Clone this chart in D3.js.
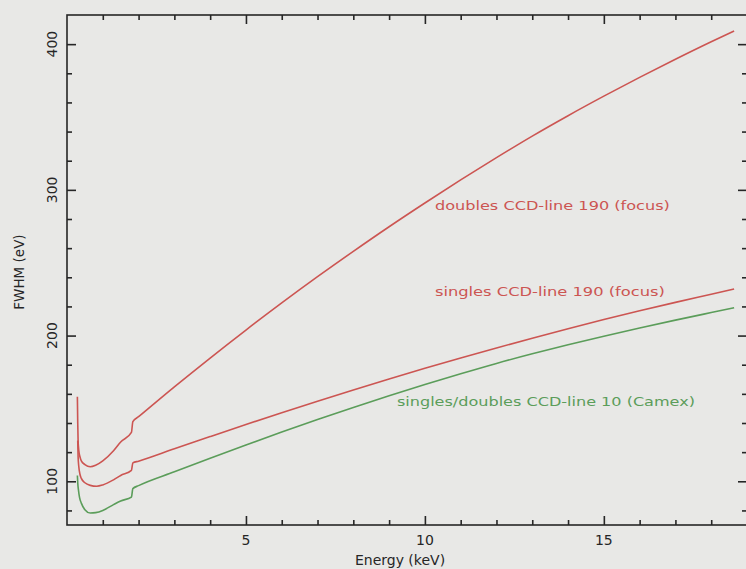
<!DOCTYPE html>
<html>
<head>
<meta charset="utf-8">
<script src="https://cdn.jsdelivr.net/npm/d3@7"></script>
<style>
  body { margin: 0; background: #e8e8e6; }
  svg { display: block; font-family: "DejaVu Sans", sans-serif; }
</style>
</head>
<body>
<svg width="746" height="569"></svg>
<script>
// energy (keV) and FWHM (eV)
const doublesE = [0.29, 0.30, 0.31, 0.33, 0.36, 0.40, 0.50, 0.65, 0.80, 1.0, 1.3, 1.5, 1.80, 1.84, 2, 3, 4, 5, 6, 7, 8, 9, 10, 11, 12, 13, 14, 15, 16, 17, 18, 18.64];
const doublesV = [158, 140, 128, 121, 117, 114, 111.5, 110, 111, 114, 121, 127, 133.5, 141, 144.3, 164.8, 184.6, 203.8, 222.4, 240.4, 257.8, 274.7, 291, 306.8, 322.1, 336.9, 350.9, 364.3, 377.2, 389.6, 401.6, 409];

const singlesE = [0.30, 0.31, 0.33, 0.36, 0.40, 0.50, 0.65, 0.83, 1.0, 1.3, 1.5, 1.80, 1.84, 2, 3, 4, 5, 6, 7, 8, 9, 10, 11, 12, 13, 14, 15, 16, 17, 18, 18.64];
const singlesV = [128, 117, 110, 105, 102, 99, 97.2, 96.6, 97.5, 101, 104, 107.5, 112.6, 113.8, 122.3, 130.7, 139, 147.1, 155, 162.7, 170.2, 177.5, 184.6, 191.5, 198.2, 204.7, 211, 217, 222.8, 228.4, 232];

const camexE = [0.29, 0.30, 0.32, 0.35, 0.40, 0.50, 0.65, 0.80, 1.0, 1.3, 1.5, 1.80, 1.84, 2, 3, 4, 5, 6, 7, 8, 9, 10, 11, 12, 13, 14, 15, 16, 17, 18, 18.64];
const camexV = [104, 99, 94, 89, 85, 80.5, 78.2, 78.5, 80, 84, 86.5, 89.2, 95, 97, 106.5, 115.8, 124.9, 133.8, 142.4, 150.7, 158.7, 166.4, 173.8, 180.9, 187.5, 193.7, 199.6, 205.2, 210.6, 215.8, 219.1];

const labelText = ["doubles CCD-line 190 (focus)", "singles CCD-line 190 (focus)", "singles/doubles CCD-line 10 (Camex)"];
const labelE = [10.28, 10.28, 9.22];
const labelV = [286, 227, 151.5];
const labelW = [235, 230, 298];

const xTicks = [5, 10, 15];
const xMinorTicks = [1, 2, 3, 4, 6, 7, 8, 9, 11, 12, 13, 14, 16, 17, 18];
const yTicks = [100, 200, 300, 400];
const yMinorTicks = [80, 120, 140, 160, 180, 220, 240, 260, 280, 320, 340, 360, 380];

const red = "#cc5552", green = "#5b9d5a", ink = "#262626";

const svg = d3.select("svg");
const mLeft = 67, mRight = 747, mTop = 15, mBottom = 525;

const x = d3.scaleLinear().domain([0, 19]).range([mLeft, mRight]);
const y = d3.scaleLinear().domain([70, 420]).range([mBottom, mTop]);

// inward ticks on all four sides, major and minor
function addAxis(axis, tx, ty) {
  const a = svg.append("g").attr("transform", `translate(${tx},${ty})`).call(axis);
  a.select(".domain").remove();
  a.selectAll(".tick line").attr("stroke", ink).attr("stroke-width", 1.6);
  a.selectAll(".tick text").remove();
}
[[xTicks, 9], [xMinorTicks, 5]].forEach(([vals, len]) => {
  addAxis(d3.axisBottom(x).tickValues(vals).tickSize(-len), 0, mBottom);
  addAxis(d3.axisTop(x).tickValues(vals).tickSize(-len), 0, mTop);
});
[[yTicks, 9], [yMinorTicks, 5]].forEach(([vals, len]) => {
  addAxis(d3.axisLeft(y).tickValues(vals).tickSize(-len), mLeft, 0);
  addAxis(d3.axisRight(y).tickValues(vals).tickSize(-len), mRight, 0);
});

// frame
svg.append("rect")
  .attr("x", mLeft).attr("y", mTop)
  .attr("width", mRight - mLeft).attr("height", mBottom - mTop)
  .attr("fill", "none").attr("stroke", ink).attr("stroke-width", 1.6);

// tick labels
svg.append("g").selectAll("text").data(xTicks).join("text")
  .attr("x", d => x(d)).attr("y", 545)
  .attr("text-anchor", "middle").attr("font-size", 14).attr("fill", ink)
  .text(d => d);

svg.append("g").selectAll("text").data(yTicks).join("text")
  .attr("transform", d => `translate(57,${y(d)}) rotate(-90)`)
  .attr("text-anchor", "middle").attr("font-size", 14).attr("fill", ink)
  .text(d => d);

// axis titles
svg.append("text").attr("x", 400).attr("y", 565)
  .attr("text-anchor", "middle").attr("font-size", 14).attr("fill", ink)
  .text("Energy (keV)");
svg.append("text").attr("transform", "translate(24,272) rotate(-90)")
  .attr("text-anchor", "middle").attr("font-size", 13.5).attr("fill", ink)
  .text("FWHM (eV)");

// curves
const line = d3.line().curve(d3.curveMonotoneX).x(d => x(d[0])).y(d => y(d[1]));
const series = [
  { e: doublesE, v: doublesV, c: red },
  { e: singlesE, v: singlesV, c: red },
  { e: camexE, v: camexV, c: green }
];
svg.append("g").selectAll("path").data(series).join("path")
  .attr("d", s => line(d3.zip(s.e, s.v)))
  .attr("fill", "none")
  .attr("stroke", s => s.c)
  .attr("stroke-width", 1.6);

// labels next to the curves
const labelColor = [red, red, green];
svg.append("g").selectAll("text").data(labelText).join("text")
  .attr("x", (d, i) => x(labelE[i])).attr("y", (d, i) => y(labelV[i]))
  .attr("font-size", 13)
  .attr("textLength", (d, i) => labelW[i]).attr("lengthAdjust", "spacingAndGlyphs")
  .attr("fill", (d, i) => labelColor[i])
  .text(d => d);
</script>
</body>
</html>
